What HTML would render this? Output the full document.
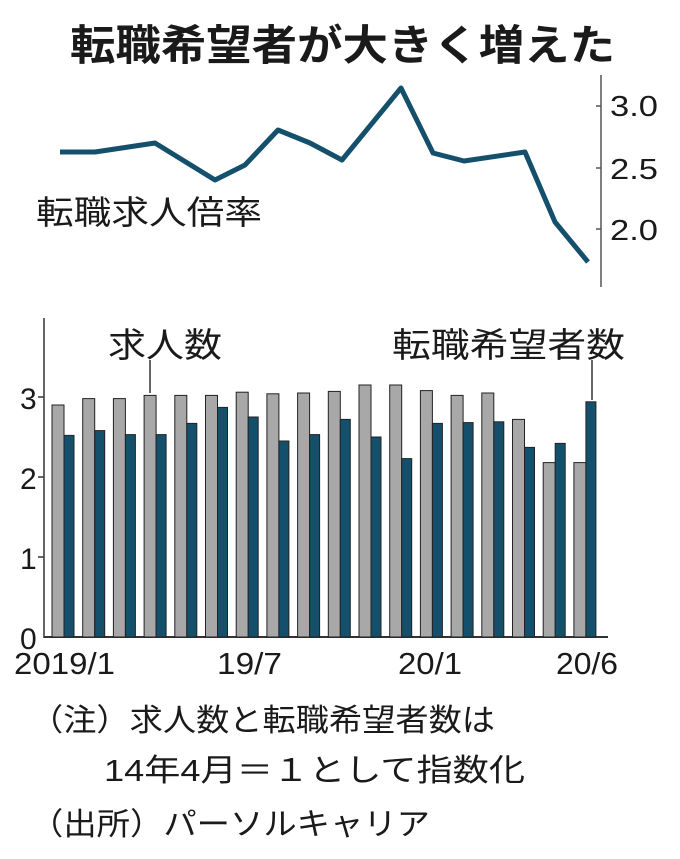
<!DOCTYPE html>
<html><head><meta charset="utf-8"><style>
body{margin:0;background:#fff}
svg{display:block}
text{font-family:"Liberation Sans","Noto Sans CJK JP",sans-serif;fill:#1a1a1a}
</style></head><body>
<svg width="680" height="859" viewBox="0 0 680 859" xmlns="http://www.w3.org/2000/svg">
<text x="70" y="60" font-size="42" font-weight="bold" textLength="545" lengthAdjust="spacingAndGlyphs">転職希望者が大きく増えた</text>
<!-- line chart -->
<line x1="601" y1="75" x2="601" y2="287" stroke="#555" stroke-width="1.5"/>
<g stroke="#555" stroke-width="1.5"><line x1="596" y1="106" x2="601" y2="106"/><line x1="596" y1="168" x2="601" y2="168"/><line x1="596" y1="229" x2="601" y2="229"/></g>
<g font-size="29"><text x="610" y="116" textLength="48" lengthAdjust="spacingAndGlyphs">3.0</text><text x="610" y="179" textLength="48" lengthAdjust="spacingAndGlyphs">2.5</text><text x="610" y="240" textLength="48" lengthAdjust="spacingAndGlyphs">2.0</text></g>
<polyline fill="none" stroke="#14506b" stroke-width="5" stroke-linejoin="round" points="60,152 95,152 155,143 215,180 245,165 278,130 310,143 342,160 401,88 433,153 464,161 525,152 555,222 588,262"/>
<text x="36" y="224" font-size="33" textLength="226" lengthAdjust="spacingAndGlyphs">転職求人倍率</text>
<!-- bar chart -->
<line x1="44" y1="318" x2="44" y2="638" stroke="#333" stroke-width="1.5"/>
<line x1="44" y1="637" x2="608" y2="637" stroke="#333" stroke-width="2"/>
<g stroke="#333" stroke-width="1.5"><line x1="38" y1="397" x2="44" y2="397"/><line x1="38" y1="477" x2="44" y2="477"/><line x1="38" y1="557" x2="44" y2="557"/></g>
<g font-size="30"><text x="20" y="409">3</text><text x="20" y="489">2</text><text x="20" y="569">1</text><text x="20" y="649">0</text></g>
<g id="bars" stroke="#222" stroke-width="1"></g>
<line x1="150" y1="360" x2="150" y2="393" stroke="#333" stroke-width="1.5"/>
<line x1="592" y1="360" x2="592" y2="400" stroke="#333" stroke-width="1.5"/>
<text x="108" y="357" font-size="34" textLength="114" lengthAdjust="spacingAndGlyphs">求人数</text>
<text x="392" y="357" font-size="34" textLength="233" lengthAdjust="spacingAndGlyphs">転職希望者数</text>
<g font-size="31"><text x="14" y="674" textLength="101" lengthAdjust="spacingAndGlyphs">2019/1</text><text x="217" y="674" textLength="65" lengthAdjust="spacingAndGlyphs">19/7</text><text x="398" y="674" textLength="64" lengthAdjust="spacingAndGlyphs">20/1</text><text x="556" y="674" textLength="62" lengthAdjust="spacingAndGlyphs">20/6</text></g>
<g font-size="31"><text x="30" y="731" textLength="465" lengthAdjust="spacingAndGlyphs">（注）求人数と転職希望者数は</text><text x="104" y="781" textLength="421" lengthAdjust="spacingAndGlyphs">14年4月＝１として指数化</text><text x="30" y="835" textLength="400" lengthAdjust="spacingAndGlyphs">（出所）パーソルキャリア</text></g>
</svg>
<script>
var g=[2.9,2.98,2.98,3.02,3.02,3.02,3.06,3.04,3.05,3.07,3.15,3.15,3.08,3.02,3.05,2.72,2.18,2.18];
var t=[2.52,2.58,2.53,2.53,2.67,2.87,2.75,2.45,2.53,2.72,2.5,2.23,2.67,2.68,2.69,2.37,2.42,2.94];
var ns='http://www.w3.org/2000/svg',el=document.getElementById('bars');
function r(x,w,v,c){var e=document.createElementNS(ns,'rect');e.setAttribute('x',x);e.setAttribute('y',637-80*v);e.setAttribute('width',w);e.setAttribute('height',80*v);e.setAttribute('fill',c);el.appendChild(e);}
for(var i=0;i<18;i++){var x=52+30.7*i;r(x,12,g[i],'#a8a8a8');r(x+12,10,t[i],'#14506b');}
</script>
</body></html>
